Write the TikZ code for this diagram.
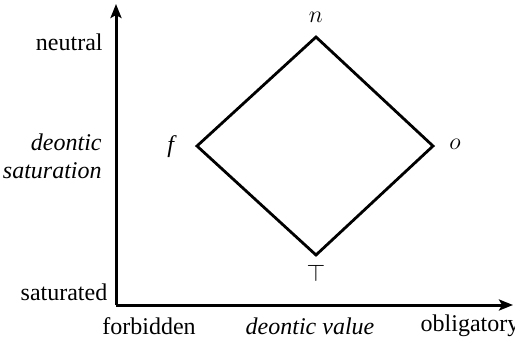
\documentclass[tikz,border=0pt]{standalone}
\usepackage{fontspec}
\setmainfont{Liberation Serif}[ItalicFont={Liberation Serif Italic}]
\usetikzlibrary{arrows.meta}
\begin{document}
\begin{tikzpicture}[x=0.5pt,y=-0.5pt,
  axis/.style={line width=1.5pt,-{Stealth[length=7pt,width=5.5pt,inset=1.5pt]}},
  edge/.style={line width=1.4pt,line join=miter},
  lbl/.style={font=\fontsize{12}{14}\selectfont,inner sep=0pt},
  mlbl/.style={font=\fontsize{13}{15}\selectfont,inner sep=0pt},
  vtx/.style={inner sep=0pt,minimum size=0pt}]
\useasboundingbox (0,0) rectangle (515,345);
\coordinate (O) at (116,305);
\coordinate (Ytop) at (116,4);
\coordinate (Xend) at (513,305);
\draw[axis] (O) -- (Ytop);
\draw[axis] (O) -- (Xend);
\node[vtx] (n) at (316,37) {};
\node[vtx] (f) at (197,146) {};
\node[vtx] (o) at (433,146) {};
\node[vtx] (b) at (316,255) {};
\draw[edge] (n.center) -- (o.center) -- (b.center) -- (f.center) -- cycle;
\node[mlbl] (ln) at (316,17) {$n$};
\node[lbl] (lf) at (172,147) {\textit{f}};
\node[mlbl] (lo) at (455,144) {$o$};
\node[mlbl] (lb) at (316,273) {$\top$};
\node[lbl,anchor=east] (neutral) at (103,42) {neutral};
\node[lbl,anchor=east,align=right] (ds) at (102,156) {\textit{deontic}\\\textit{saturation}};
\node[lbl] (sat) at (64,292) {saturated};
\node[lbl] (forb) at (149,326) {forbidden};
\node[lbl] (dv) at (310,326) {\textit{deontic value}};
\node[lbl] (obl) at (470,326) {obligatory};
\end{tikzpicture}
\end{document}
